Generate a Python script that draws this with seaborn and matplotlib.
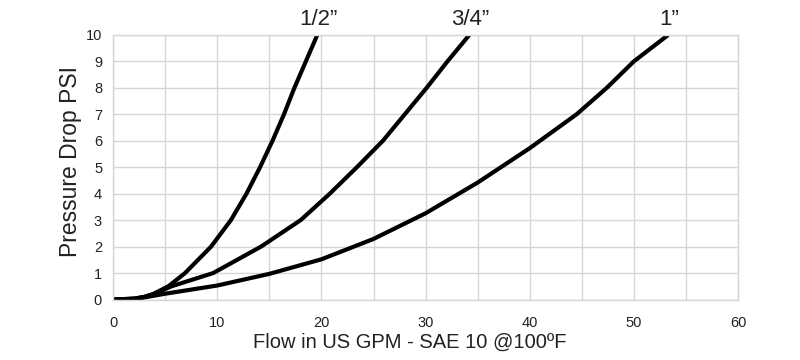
import matplotlib
matplotlib.use("Agg")
import matplotlib.pyplot as plt
import numpy as np
import pandas as pd
import seaborn as sns

# values (flow GPM, pressure drop PSI)
flow_half = [0, 2, 3, 3.8, 5.3, 6.9, 9.4, 11.3, 12.8, 14.1, 15.3, 16.4, 17.4, 18.5, 19.6]
psi_half = [0, 0.03, 0.1, 0.2, 0.5, 1, 2, 3, 4, 5, 6, 7, 8, 9, 10]

flow_3q = [0, 2, 3, 4, 5.6, 9.6, 14.2, 18.0, 20.8, 23.4, 25.9, 28.0, 30.1, 32.1, 34.2]
psi_3q = [0, 0.03, 0.1, 0.22, 0.5, 1, 2, 3, 4, 5, 6, 7, 8, 9, 10]

flow_1 = [0, 2, 3, 5, 10, 15, 20, 25, 30, 35, 40, 44.5, 47.4, 50, 53.3]
psi_1 = [0, 0.03, 0.08, 0.22, 0.53, 0.97, 1.52, 2.29, 3.26, 4.42, 5.72, 7, 8, 9, 10]

sizes = ["1/2\u201d", "3/4\u201d", "1\u201d"]

df = pd.concat([
    pd.DataFrame({"flow": flow_half, "psi": psi_half, "size": sizes[0]}),
    pd.DataFrame({"flow": flow_3q, "psi": psi_3q, "size": sizes[1]}),
    pd.DataFrame({"flow": flow_1, "psi": psi_1, "size": sizes[2]}),
])

sns.set_theme(style="whitegrid")
plt.rcParams["font.family"] = ["Liberation Sans", "DejaVu Sans"]

fig = plt.figure(figsize=(8, 3.6), dpi=100)
ax = fig.add_axes([0.1415, 0.168, 0.781, 0.735])

sns.lineplot(data=df, x="flow", y="psi", hue="size", palette=["black"] * 3,
             linewidth=3, legend=False, sort=False, ax=ax,
             solid_joinstyle="round", solid_capstyle="butt")

# curve labels above the top of the plot
for s, fl in zip(sizes, [flow_half[-1], flow_3q[-1], flow_1[-1]]):
    ax.annotate(s, xy=(fl, 10), xytext=(1, 7.5), textcoords="offset points",
                ha="center", va="baseline", fontsize=16, color="#222222",
                annotation_clip=False)

ax.set_xlim(0, 60)
ax.set_ylim(0, 10)
ax.set_xticks(np.arange(0, 61, 5))
ax.set_xticklabels([str(v) if v % 10 == 0 else "" for v in range(0, 61, 5)])
ax.set_yticks(np.arange(0, 11, 1))
ax.grid(True, color="#d6d6d6", linewidth=1)
for sp in ax.spines.values():
    sp.set_color("#d6d6d6")
    sp.set_linewidth(1)
ax.tick_params(axis="x", length=0, pad=12, labelsize=10.5, colors="#222222")
ax.tick_params(axis="y", length=0, pad=8, labelsize=10.5, colors="#222222")

ax.set_xlabel("Flow in US GPM - SAE 10 @100\u00baF", fontsize=14.5, color="#222222")
ax.set_ylabel("Pressure Drop PSI", fontsize=16.5, color="#222222")
ax.xaxis.set_label_coords(0.474, -0.125)
ax.yaxis.set_label_coords(-0.05, 0.52)

fig.savefig("out.png", dpi=100)
